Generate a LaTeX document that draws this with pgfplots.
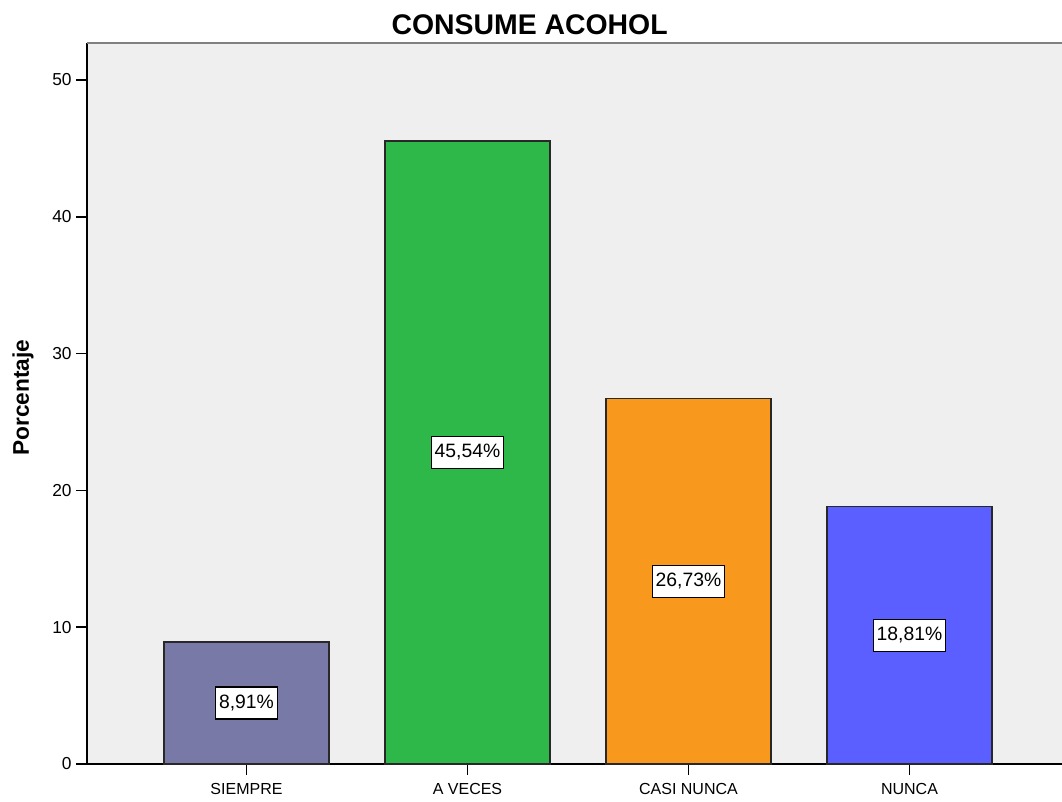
\documentclass[border=0pt]{standalone}
\usepackage{pgfplots}
\pgfplotsset{compat=1.18}
\usepackage{fontspec}
\setmainfont{Liberation Sans}
\definecolor{cA}{RGB}{121,121,168}
\definecolor{cB}{RGB}{46,184,74}
\definecolor{cC}{RGB}{248,153,30}
\definecolor{cD}{RGB}{91,95,255}
\definecolor{bgc}{RGB}{239,239,239}
\definecolor{topg}{RGB}{128,128,128}
\definecolor{edge}{RGB}{40,40,40}
\begin{document}
\begin{tikzpicture}
\begin{axis}[
  at={(0pt,0pt)}, anchor=south west, scale only axis,
  width=731.25pt, height=540.75pt,
  xmin=-0.7217, xmax=3.690, ymin=0, ymax=52.7,
  axis x line*=bottom, axis y line*=left,
  axis line style={black, line width=1.4pt},
  axis background/.style={fill=bgc},
  xtick={0,1,2,3}, xticklabels={SIEMPRE,A VECES,CASI NUNCA,NUNCA},
  ytick={0,10,20,30,40,50},
  tick align=outside, major tick length=8pt,
  tick style={black, line width=1.2pt},
  /pgf/number format/assume math mode=true,
  yticklabel style={font=\fontsize{13}{13}\selectfont},
  xticklabel style={font=\fontsize{12}{12}\selectfont, yshift=-3pt},
  ylabel={Porcentaje},
  ylabel style={at={(axis description cs:-0.0656,0.508)}, anchor=center, rotate=0, font=\bfseries\fontsize{17}{17}\selectfont},
  title={CONSUME ACOHOL},
  title style={at={(axis description cs:0.454,1.014)}, anchor=center, font=\bfseries\fontsize{21.3}{21.3}\selectfont},
  clip=false,
]
\draw[topg, line width=2.2pt] (rel axis cs:0,1) -- (rel axis cs:1,1);
\addplot[ybar, bar width=0.7466, bar shift=0, fill=cA, draw=edge, line width=1pt] coordinates {(0,8.91)};
\addplot[ybar, bar width=0.7466, bar shift=0, fill=cB, draw=edge, line width=1pt] coordinates {(1,45.54)};
\addplot[ybar, bar width=0.7466, bar shift=0, fill=cC, draw=edge, line width=1pt] coordinates {(2,26.73)};
\addplot[ybar, bar width=0.7466, bar shift=0, fill=cD, draw=edge, line width=1pt] coordinates {(3,18.81)};
\addplot[only marks, mark=*, mark options={draw=none, fill=none},
  point meta=explicit symbolic, nodes near coords,
  every node near coord/.append style={anchor=center, fill=white, draw=black, line width=0.9pt,
    font=\fontsize{14.5}{14.5}\selectfont, inner xsep=2.5pt, minimum height=24pt}]
  coordinates {(0,4.455)[8,91\%] (1,22.77)[45,54\%] (2,13.365)[26,73\%] (3,9.405)[18,81\%]};
\end{axis}
\pgfresetboundingbox
\path (-65.25pt,-27.75pt) rectangle (731.25pt,573pt);
\end{tikzpicture}
\end{document}
